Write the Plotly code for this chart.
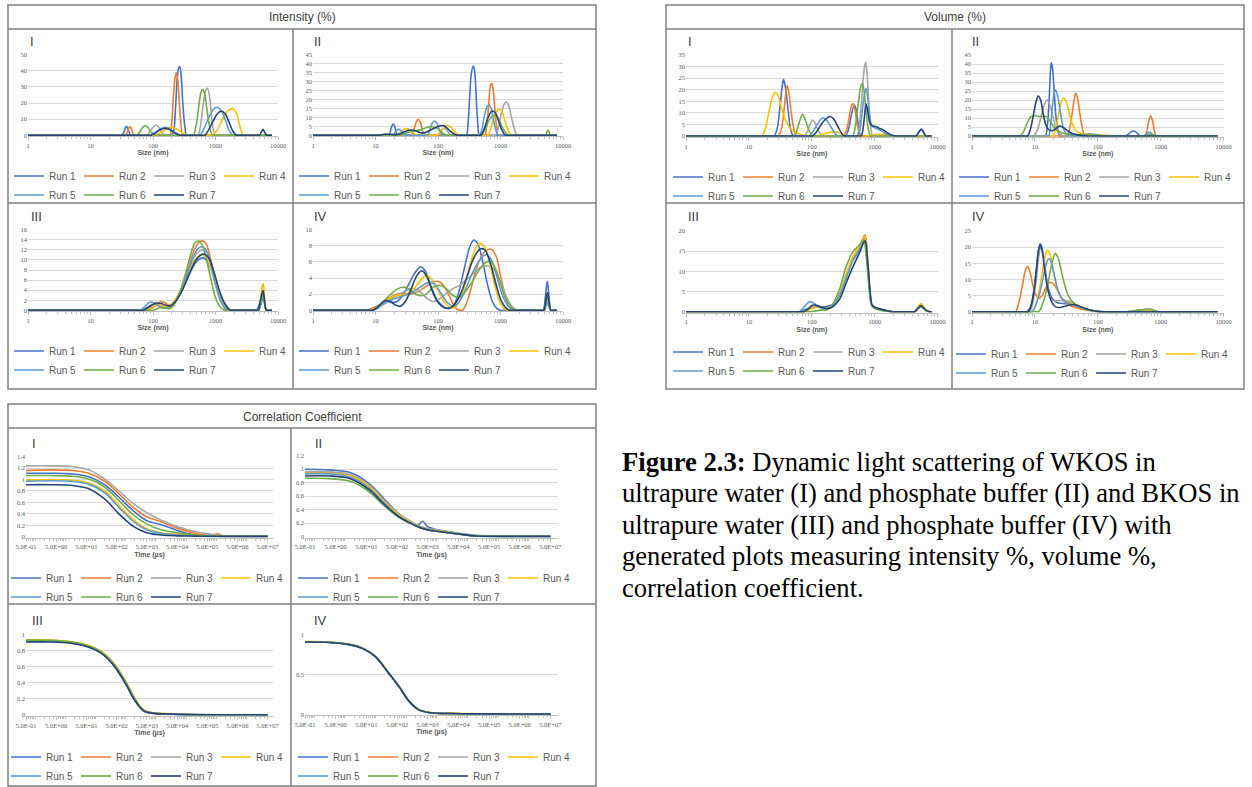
import math
import plotly.graph_objects as go

W, H = 1252, 787

RUN_NAMES = ["Run 1", "Run 2", "Run 3", "Run 4", "Run 5", "Run 6", "Run 7"]
RUN_COLORS = ["#4472C4", "#ED7D31", "#A5A5A5", "#FFC000", "#5B9BD5", "#70AD47", "#264478"]

SIZE_TICKS = [1, 10, 100, 1000, 10000]
SIZE_TICK_TEXT = ["1", "10", "100", "1000", "10000"]
TIME_TICKS = [0.5, 5, 50, 500, 5000, 50000, 500000, 5000000, 50000000]
TIME_TICK_TEXT = ["5.0E-01", "5.0E+00", "5.0E+01", "5.0E+02", "5.0E+03",
                  "5.0E+04", "5.0E+05", "5.0E+06", "5.0E+07"]

# ---------------- Intensity (%) : (size nm, %) per run ----------------
INT_I = [
    [(1,0),(27,0),(31,0),(34,1.5),(36,4.5),(37.5,5.6),(39.5,4.2),(42,1.5),(45,0),(52,0),(175,0),(200,0),(215,3),(230,18),(245,36),(258,42),(268,42.5),(282,37),(300,20),(322,6),(345,0),(390,0),(8000,0)],
    [(1,0),(32,0),(36,0),(39,2),(41,4.5),(42.5,5.2),(44.5,4.5),(47,2),(51,0),(58,0),(165,0),(185,0),(198,6),(212,24),(226,36),(236,38.8),(248,35),(262,22),(280,7),(300,0),(340,0),(8000,0)],
    [(1,0),(68,0),(78,0),(88,2),(100,5),(112,6.2),(124,5),(138,2),(154,0),(175,0),(480,0),(525,0),(575,6),(640,20),(700,28),(740,29.2),(790,26),(850,15),(920,4),(1000,0),(1100,0),(8000,0)],
    [(1,0),(90,0),(105,0),(130,1.5),(160,3.8),(195,5),(235,4),(285,2),(340,0),(390,0),(800,0),(900,0),(1050,3),(1300,10),(1600,15.5),(1900,16.5),(2150,14),(2400,7),(2650,1.5),(2800,0),(3100,0),(8000,0)],
    [(1,0),(78,0),(90,0),(110,2),(135,4.2),(155,5),(180,4.3),(215,2),(265,0),(300,0),(500,0),(560,0),(650,4),(780,11),(950,16.5),(1080,17.4),(1250,15),(1450,9),(1650,3),(1900,0),(2150,0),(8000,0)],
    [(1,0),(47,0),(54,0),(60,1.5),(67,4.5),(76,6),(84,4.5),(96,1.5),(113,0),(130,0),(390,0),(440,0),(490,6),(540,18),(590,27),(625,28.5),(670,26),(720,18),(800,6),(900,0),(1000,0),(8000,0)],
    [(1,0),(80,0),(92,0),(110,1.5),(130,3.5),(152,4.3),(180,3.8),(215,2),(270,0),(310,0),(600,0),(680,0),(780,3.5),(920,9),(1080,13.5),(1240,15),(1420,13.5),(1650,8),(1900,2.5),(2150,0),(2400,0),(4600,0),(5000,0),(5400,2),(5750,3.7),(6100,2),(6600,0),(7100,0),(8000,0)],
]
INT_II = [
    [(1,0),(14.5,0),(16.5,0),(17.5,3),(18.5,5.5),(19.2,6.3),(20,5.5),(21,3),(22.5,0),(25,0),(255,0),(285,0),(300,5),(320,20),(340,34),(365,38.7),(385,36),(405,24),(430,8),(460,0),(500,0),(8000,0)],
    [(1,0),(32,0),(37,0),(41,3),(45,7.5),(48,8.9),(52,7.5),(56,3),(61,0),(70,0),(500,0),(560,0),(600,5),(650,18),(695,28),(725,29),(760,26),(810,15),(870,4),(920,0),(1000,0),(8000,0)],
    [(1,0),(85,0),(100,0),(112,2.5),(125,4),(140,2.5),(160,0),(180,0),(760,0),(840,0),(920,4),(1030,12),(1150,17.5),(1240,18.6),(1340,17),(1480,11),(1650,4),(1850,0),(2000,0),(8000,0)],
    [(1,0),(19,0),(21.5,0),(25,1.5),(28,3.2),(31,3.7),(35,3.2),(40,1.5),(45,0),(50,0),(85,0),(95,0),(110,2),(125,4.5),(142,5.6),(160,4.5),(185,2),(215,0),(240,0),(560,0),(630,0),(700,4),(800,11),(910,14.3),(980,14.5),(1060,13),(1180,8),(1320,3),(1480,0),(1600,0),(8000,0)],
    [(1,0),(17,0),(19,0),(20.5,1.5),(22,3),(24,3.3),(26,2.5),(29,0.8),(33,0),(60,0),(68,0),(74,3),(80,6.5),(88,8),(96,6.8),(106,3),(120,0),(135,0),(400,0),(460,0),(500,3),(555,11),(610,16),(650,16.9),(700,15.5),(760,10),(840,3),(920,0),(1000,0),(8000,0)],
    [(1,0),(22,0),(25,0),(30,1.2),(36,2),(44,2.5),(55,3.3),(68,4.5),(80,4.8),(95,4),(112,2),(130,0.5),(150,0),(170,0),(450,0),(500,0),(560,3),(650,8),(740,10.8),(810,11.3),(880,10.5),(980,7.5),(1130,3),(1300,0.3),(1420,0),(1550,0),(5000,0),(5300,0),(5550,2),(5750,3),(6000,2),(6300,0),(6700,0),(8000,0)],
    [(1,0),(10,0),(11.5,0),(13.5,0.6),(17,0.6),(21,0.4),(26,1.2),(31,2.4),(37,3),(44,2.5),(52,1.5),(62,1.5),(75,2.8),(92,4.4),(110,5.3),(122,5.4),(138,4.2),(160,2),(190,0.3),(210,0),(240,0),(430,0),(480,0),(540,3),(620,9),(700,13),(760,13.6),(830,12.5),(930,8),(1050,3),(1180,0.3),(1250,0),(1400,0),(8000,0)],
]
INT_III = [
    [(1,0),(55,0),(65,0),(75,0.3),(90,0.9),(108,1.2),(128,1.0),(150,0.7),(175,0.8),(210,1.5),(260,3),(330,5.5),(430,8.5),(530,10),(630,10.4),(760,9.5),(920,7),(1100,4),(1350,1.5),(1650,0.2),(1900,0),(2200,0),(3800,0),(4200,0),(4700,0.3),(5200,1.8),(5750,3.6),(6200,1.2),(6500,0),(7000,0),(8000,0)],
    [(1,0),(70,0),(80,0),(95,0.4),(115,1.2),(135,1.7),(155,1.5),(180,1.0),(205,1.2),(240,2.5),(300,5),(380,9),(470,12.3),(560,13.6),(640,13.75),(730,12.8),(860,9.5),(1000,5.5),(1200,2),(1400,0.4),(1600,0),(1900,0),(4500,0),(4900,0),(5300,1.3),(5750,2.9),(6100,1.5),(6500,0),(7000,0),(8000,0)],
    [(1,0),(65,0),(75,0),(90,0.6),(105,1.0),(125,0.9),(150,0.6),(180,0.7),(215,1.5),(270,3.5),(350,7),(450,10.5),(560,11.8),(660,12),(770,11),(900,8.5),(1080,4.5),(1300,1.5),(1550,0.2),(1700,0),(2000,0),(4500,0),(4900,0),(5300,1.4),(5750,3.0),(6100,1.5),(6500,0),(7000,0),(8000,0)],
    [(1,0),(70,0),(80,0),(95,0.6),(112,1.1),(135,1.0),(160,0.8),(190,1.0),(230,2.2),(290,4.5),(370,7.5),(470,10),(590,11),(700,10.6),(830,8.5),(1000,5),(1200,2),(1450,0.4),(1650,0),(1900,0),(4500,0),(4900,0),(5300,2.5),(5650,5.0),(5800,5.2),(6100,2.5),(6500,0),(7000,0),(8000,0)],
    [(1,0),(55,0),(63,0),(72,0.6),(80,1.2),(90,1.6),(102,1.5),(118,1.0),(140,0.5),(165,0.4),(200,0.9),(250,2.5),(320,5.5),(410,9.5),(520,12.2),(620,12.6),(720,11.8),(860,8.5),(1030,4.5),(1250,1.5),(1500,0.2),(1650,0),(1900,0),(4500,0),(4900,0),(5300,1.2),(5750,2.6),(6100,1.3),(6500,0),(7000,0),(8000,0)],
    [(1,0),(85,0),(100,0),(115,0.3),(135,0.5),(160,0.4),(185,0.3),(210,0.8),(250,2.5),(310,6),(390,10.5),(470,13.4),(540,13.75),(620,12.8),(720,10),(850,6),(1000,2.5),(1200,0.6),(1400,0),(1600,0),(4500,0),(4900,0),(5300,1.5),(5750,3.3),(6100,1.6),(6500,0),(7000,0),(8000,0)],
    [(1,0),(60,0),(70,0),(80,0.4),(95,1.0),(113,1.45),(135,1.35),(160,1.0),(190,0.9),(230,1.8),(290,3.8),(380,7.2),(500,10.2),(640,11.2),(780,10.4),(950,7.5),(1150,4),(1400,1.4),(1650,0.2),(1800,0),(2000,0),(4300,0),(4800,0),(5200,1.8),(5750,3.9),(6150,1.5),(6500,0),(7000,0),(8000,0)],
]
INT_IV = [
    [(1,0),(8,0),(9,0),(10.5,0.3),(12.5,0.8),(15,1.1),(18,1.0),(22,1.1),(28,2.0),(36,3.6),(45,4.9),(53,5.4),(62,4.9),(75,3.3),(92,1.6),(115,0.6),(145,0.2),(175,0.5),(210,2),(260,5),(320,7.8),(370,8.7),(430,8.3),(510,6.3),(620,3.2),(750,1.0),(880,0.2),(1000,0),(1200,0),(4300,0),(4800,0),(5200,1.5),(5600,3.6),(6000,1.6),(6400,0),(7000,0),(8000,0)],
    [(1,0),(6.5,0),(7.3,0),(8.5,0.2),(10.5,0.5),(14,1.1),(19,1.8),(26,2.1),(34,2.0),(45,2.2),(60,2.8),(78,3.4),(100,3.6),(125,3.0),(155,1.6),(190,0.3),(220,0),(245,0),(280,0.7),(340,2.8),(430,5.6),(550,7.2),(700,7.6),(840,6.8),(1020,4),(1250,1.4),(1550,0.2),(1800,0),(2000,0),(4600,0),(5000,0),(5300,0.7),(5650,1.5),(6000,0.7),(6400,0),(7000,0),(8000,0)],
    [(1,0),(8,0),(9,0),(10.5,0.3),(13,0.9),(17,1.4),(23,1.9),(30,2.4),(40,2.7),(52,2.3),(66,1.5),(82,1.1),(105,1.4),(135,2.1),(175,2.7),(220,3.1),(280,3.7),(370,4.6),(480,5.3),(620,5.5),(780,5.1),(980,3.7),(1250,1.6),(1600,0.3),(1900,0),(2100,0),(4600,0),(5000,0),(5300,0.7),(5650,1.4),(6000,0.7),(6400,0),(7000,0),(8000,0)],
    [(1,0),(8,0),(9,0),(10.5,0.3),(12.5,0.8),(16,1.4),(21,1.8),(28,1.9),(37,2.3),(48,3.3),(58,4.1),(67,4.3),(80,3.8),(98,2.6),(125,1.1),(160,0.3),(195,0.5),(240,1.8),(300,4.6),(380,7.3),(460,8.3),(550,7.9),(670,5.8),(830,2.8),(1000,0.8),(1200,0.1),(1350,0),(1500,0),(4600,0),(5000,0),(5300,0.9),(5650,1.9),(6000,0.9),(6400,0),(7000,0),(8000,0)],
    [(1,0),(8,0),(9,0),(10.5,0.2),(12.5,0.6),(16,1.1),(21,1.5),(28,1.8),(38,2.2),(50,2.8),(63,3.3),(75,3.5),(90,3.2),(110,2.2),(140,1.0),(175,0.5),(215,1.0),(270,2.4),(350,4.5),(460,6.2),(580,6.9),(700,6.4),(850,4.5),(1050,2.1),(1300,0.6),(1550,0.1),(1700,0),(1900,0),(4600,0),(5000,0),(5300,0.4),(5650,0.9),(6000,0.4),(6400,0),(7000,0),(8000,0)],
    [(1,0),(8,0),(9,0),(10.5,0.4),(13,1.0),(17,1.9),(22,2.6),(28,2.9),(35,2.6),(44,2.0),(55,1.8),(67,2.1),(85,2.9),(108,3.1),(135,2.7),(170,1.9),(210,1.6),(260,2.1),(330,3.2),(430,4.7),(550,5.8),(660,6.1),(780,5.6),(940,4.0),(1150,1.9),(1450,0.4),(1750,0),(2000,0),(4600,0),(5000,0),(5300,0.8),(5650,1.6),(6000,0.8),(6400,0),(7000,0),(8000,0)],
    [(1,0),(8,0),(9,0),(10.5,0.3),(12.5,0.9),(14.5,1.2),(17,1.1),(20.5,0.7),(25,0.5),(30,1.1),(37,2.6),(46,4.3),(55,4.9),(65,4.3),(80,2.5),(100,1.0),(130,0.3),(165,0.4),(210,1.4),(280,3.8),(370,6.4),(470,7.6),(560,7.5),(680,6.0),(850,3.2),(1050,1.0),(1300,0.1),(1450,0),(1600,0),(4500,0),(4900,0),(5250,1.0),(5650,2.2),(6000,1.0),(6400,0),(7000,0),(8000,0)],
]

# ---------------- Volume (%) : (size nm, %) per run ----------------
VOL_I = [
    [(1,0),(22,0),(25,0),(28,3),(31,12),(34,22),(35.5,24.5),(38,21),(42,11),(46,3),(51,0),(58,0),(300,0),(340,0),(375,2),(410,7),(445,11.5),(475,13.4),(505,11.5),(540,6),(580,1),(610,0),(680,0),(8000,0)],
    [(1,0),(26,0),(29,0),(32,2),(35,8),(38,17),(40.5,21.8),(43,19),(47,10),(52,3),(57,0),(65,0),(280,0),(310,0),(350,2),(385,7),(420,12.5),(450,14),(480,12),(520,6),(570,1),(600,0),(680,0),(8000,0)],
    [(1,0),(68,0),(76,0),(85,2),(95,5.5),(103,6.9),(113,5.5),(128,2),(149,0),(165,0),(470,0),(520,0),(565,4),(620,16),(680,29),(715,31.8),(750,28),(800,15),(860,4),(930,0),(1000,0),(8000,0)],
    [(1,0),(14,0),(16,0),(18.5,4),(21,11),(24,17.5),(26.5,18.9),(29,17.5),(33,12),(38,7),(45,3.5),(55,1.5),(70,0.5),(90,0.1),(110,0),(130,0.3),(160,1.0),(200,1.6),(240,1.8),(280,1.2),(330,0.3),(380,0),(700,0),(900,0.4),(1200,0.7),(1500,0.6),(1900,0.1),(2200,0),(8000,0)],
    [(1,0),(80,0),(91,0),(105,2),(125,5.5),(149,7.9),(175,6.5),(210,3),(250,0.3),(270,0),(490,0),(530,0),(580,3),(640,12),(700,19),(730,20.6),(770,17),(830,9),(900,4.5),(1000,3.5),(1150,2.8),(1350,1.8),(1600,0.6),(1900,0),(2200,0),(4100,0),(4500,0),(5000,1.5),(5500,2.6),(6000,1.3),(6500,0),(7200,0),(8000,0)],
    [(1,0),(48,0),(53,0),(58,2.5),(64,6.5),(71.5,9.4),(80,6.5),(90,2.5),(103,0),(115,0),(400,0),(446,0),(490,4),(540,13),(600,21.5),(630,22.8),(670,20),(720,12),(790,3),(860,0),(950,0),(8000,0)],
    [(1,0),(90,0),(103,0),(120,2),(145,5.5),(175,7.8),(195,8.4),(220,7.5),(260,4),(300,1),(330,0),(360,0),(560,0),(610,0),(650,3),(690,9),(726,13.8),(770,11),(830,6),(900,4.5),(1000,4.2),(1150,3.5),(1350,2.7),(1600,1.3),(1900,0.3),(2200,0),(2500,0),(4100,0),(4500,0),(5000,1.7),(5500,3.0),(6000,1.5),(6500,0),(7200,0),(8000,0)],
]
VOL_II = [
    [(1,0),(13,0),(14.6,0),(15.8,6),(16.8,20),(17.6,35),(18.2,40.7),(19,38),(20.2,25),(21.7,10),(23.5,2),(25,0),(28,0),(240,0),(274,0),(310,1.2),(350,2.6),(375,2.8),(410,2),(450,0.5),(470,0),(520,0),(8000,0)],
    [(1,0),(28,0),(32,0),(35,3),(38.5,11),(42,20),(44.5,23.7),(47.5,21),(52,12),(57,4),(63,0),(70,0),(500,0),(560,0),(600,2.5),(640,8),(690,11.1),(740,8.5),(790,3),(840,0),(920,0),(8000,0)],
    [(1,0),(8.5,0),(9.5,0),(10.8,3),(12.2,9),(13.7,16),(15.5,20),(17.3,17),(19.5,10),(22,4),(25,1),(29,0),(33,0),(8000,0)],
    [(1,0),(17,0),(19,0),(21,3),(23.5,11),(26,18.5),(28.5,21.1),(31.5,19),(35,13),(39,7),(44,3.5),(50,1.8),(60,0.9),(80,0.5),(120,0.5),(160,0.3),(200,0),(240,0),(8000,0)],
    [(1,0),(15,0),(16.5,0),(17.5,4),(18.7,14),(20,23),(21.3,25.6),(23,22),(25.5,13),(28,5),(31,1.5),(35,0.5),(50,0.3),(70,1.0),(90,0.8),(110,0.2),(130,0),(480,0),(530,0),(590,1.2),(660,2),(730,1.2),(800,0),(880,0),(8000,0)],
    [(1,0),(5,0),(5.8,0),(6.5,2),(7.5,7),(8.5,10.5),(9.5,11.2),(11,11),(12.5,10.8),(14.5,11),(16,10),(18,7.5),(20.5,4.5),(24,2.5),(30,1.2),(40,0.9),(55,0.8),(75,1.0),(95,0.6),(120,0.1),(140,0),(500,0),(560,0),(620,0.6),(690,0.9),(760,0.5),(830,0),(900,0),(8000,0)],
    [(1,0),(6.8,0),(7.6,0),(8.5,4),(9.5,12),(10.5,19.5),(11.3,22.2),(12.3,20),(13.6,12),(15,6),(16.5,3.5),(19,3),(22,4.5),(25,5.5),(29,4.5),(34,2.5),(40,1.2),(50,0.5),(60,0.1),(70,0),(80,0),(8000,0)],
]
VOL_III = [
    [(1,0),(58,0),(66,0),(76,0.4),(92,1.0),(112,1.3),(135,1.2),(160,1.2),(190,1.5),(214,1.8),(274,4.2),(349,8.5),(446,12.8),(569,15.5),(680,18.2),(760,12),(830,5),(900,1.6),(1000,1.0),(1200,0.6),(1500,0.3),(1900,0),(2300,0),(3800,0),(4300,0),(4800,0.8),(5400,1.4),(6000,0.9),(6800,0.2),(7500,0),(8000,0)],
    [(1,0),(65,0),(75,0),(88,0.5),(105,1.0),(122,1.2),(145,1.0),(170,0.8),(195,1.0),(214,1.5),(274,4),(349,8.3),(446,13),(569,16),(700,19.0),(770,13),(840,5),(900,1.5),(1000,0.9),(1200,0.5),(1500,0.2),(1900,0),(2300,0),(3800,0),(4300,0),(4800,0.6),(5400,1.2),(6000,0.7),(6800,0.1),(7500,0),(8000,0)],
    [(1,0),(62,0),(72,0),(85,0.5),(100,1.1),(120,1.3),(145,1.1),(170,0.9),(195,1.2),(214,1.6),(274,4.3),(349,8.8),(446,13.2),(569,15.8),(690,18.0),(765,12),(835,5),(900,1.5),(1000,1.0),(1200,0.5),(1500,0.2),(1900,0),(2300,0),(3800,0),(4300,0),(4800,0.8),(5400,1.6),(6000,0.9),(6800,0.2),(7500,0),(8000,0)],
    [(1,0),(65,0),(75,0),(88,0.4),(105,0.9),(125,1.1),(150,0.9),(175,0.8),(200,1.2),(214,1.6),(274,4.5),(349,9.2),(446,13.6),(569,16.2),(690,18.5),(765,12.5),(835,5),(900,1.5),(1000,1.0),(1200,0.6),(1500,0.3),(1900,0),(2300,0),(3800,0),(4300,0),(4800,1.0),(5400,2.0),(6000,1.2),(6800,0.2),(7500,0),(8000,0)],
    [(1,0),(55,0),(63,0),(72,0.8),(82,1.8),(92,2.5),(105,2.2),(125,1.3),(150,0.7),(180,0.7),(214,1.4),(274,4),(349,8.2),(446,12.5),(569,15.2),(690,17.5),(765,12),(835,5),(900,1.6),(1000,1.1),(1200,0.6),(1500,0.3),(1900,0),(2300,0),(3800,0),(4300,0),(4800,0.7),(5400,1.3),(6000,0.8),(6800,0.1),(7500,0),(8000,0)],
    [(1,0),(80,0),(95,0),(115,0.2),(140,0.4),(170,0.4),(200,1.2),(214,1.8),(274,5.5),(349,11),(446,14.8),(569,16.5),(660,17.8),(740,13),(810,6),(880,1.8),(1000,0.8),(1200,0.4),(1500,0.1),(1800,0),(2300,0),(3800,0),(4300,0),(4800,0.7),(5400,1.3),(6000,0.8),(6800,0.1),(7500,0),(8000,0)],
    [(1,0),(65,0),(75,0),(88,0.7),(103,1.65),(120,1.5),(145,1.1),(170,0.8),(195,0.9),(214,1.2),(274,3),(349,7),(446,11),(569,14.5),(700,17.6),(775,12),(845,5),(910,1.6),(1000,1.1),(1200,0.7),(1500,0.3),(1900,0),(2300,0),(3800,0),(4300,0),(4800,0.8),(5400,1.5),(6000,0.9),(6800,0.2),(7500,0),(8000,0)],
]
VOL_IV = [
    [(1,0),(6.5,0),(7.5,0),(8.5,1.5),(9.5,6),(10.5,13),(11.4,19),(12.2,21),(13.2,19),(14.5,13),(16.5,7),(19,4),(23,2.8),(30,2.5),(40,2.3),(50,1.6),(65,0.8),(85,0.3),(110,0),(130,0),(300,0),(380,0.3),(500,0.6),(650,0.6),(800,0.2),(900,0),(1000,0),(8000,0)],
    [(1,0),(4.4,0),(4.9,0),(5.5,2.5),(6.3,8),(7,12.5),(7.6,14),(8.3,12.5),(9.3,8),(10.5,5),(11.7,4.2),(13,5),(15,7.5),(17.5,9.1),(20,8.5),(23,6.5),(27,4),(32,2.5),(40,1.5),(55,0.8),(80,0.3),(110,0),(130,0),(8000,0)],
    [(1,0),(7.5,0),(8.3,0),(9.3,3),(10.5,10),(11.5,17),(12.4,20),(13.4,18),(14.8,12),(16.5,6),(19,3.5),(23,3.4),(28,3.5),(34,3.3),(42,2.5),(55,1.2),(75,0.4),(100,0),(120,0),(8000,0)],
    [(1,0),(8.2,0),(9,0),(10.2,2),(11.8,7),(13.5,14),(15,18),(15.8,19),(17.2,18),(19,14),(22,8),(26,4.5),(32,3.0),(40,2.5),(52,1.6),(70,0.7),(95,0.2),(130,0),(300,0),(400,0.3),(550,0.6),(700,0.5),(850,0),(1000,0),(8000,0)],
    [(1,0),(8,0),(9,0),(10.3,2),(12,6),(14,12),(15.5,15.5),(16.5,16.5),(18,15.5),(20,12),(23,7),(27,4),(33,2.7),(42,2),(55,1.2),(75,0.5),(100,0.1),(130,0),(8000,0)],
    [(1,0),(10.5,0),(11.5,0),(13,2),(15,6),(17.5,12.5),(19.5,16.5),(21,18),(23,17),(26,13),(30,8),(35,4.5),(42,2.6),(52,1.5),(65,0.8),(85,0.3),(110,0),(300,0),(400,0.3),(550,0.7),(680,0.8),(800,0.3),(900,0),(1000,0),(8000,0)],
    [(1,0),(6.8,0),(7.7,0),(8.6,1.5),(9.6,6),(10.6,13),(11.4,19),(12.1,20.7),(13,19),(14.3,13),(16,7),(18.5,3),(21.5,1.5),(25,1.3),(30,1.7),(36,2.1),(42,2.2),(50,1.8),(62,1.0),(80,0.4),(100,0.1),(120,0),(8000,0)],
]

# ---------------- Correlation coefficient : time (us) grid + values per run ----------------
CORR_I_T = [0.5, 3, 15, 60, 200, 600, 1800, 5000, 15000, 50000, 200000, 700000, 1100000, 1600000, 5000000, 50000000]
CORR_I = [
    [1.11, 1.11, 1.10, 1.05, 0.91, 0.69, 0.45, 0.28, 0.21, 0.11, 0.03, 0.01, 0.01, 0.005, 0.005, 0.005],
    [1.16, 1.17, 1.16, 1.11, 0.97, 0.75, 0.51, 0.35, 0.26, 0.15, 0.06, 0.02, 0.05, 0.015, 0.005, 0.005],
    [1.24, 1.24, 1.23, 1.17, 1.01, 0.80, 0.58, 0.42, 0.29, 0.18, 0.09, 0.04, 0.03, 0.02, 0.01, 0.005],
    [0.99, 1.00, 0.99, 0.94, 0.80, 0.55, 0.30, 0.14, 0.07, 0.04, 0.02, 0.01, 0.01, 0.005, 0.005, 0.005],
    [0.97, 0.98, 0.97, 0.92, 0.77, 0.51, 0.27, 0.12, 0.06, 0.03, 0.015, 0.01, 0.005, 0.005, 0.005, 0.005],
    [1.07, 1.07, 1.06, 1.01, 0.87, 0.63, 0.38, 0.22, 0.12, 0.07, 0.03, 0.01, 0.01, 0.005, 0.005, 0.005],
    [0.91, 0.91, 0.90, 0.84, 0.66, 0.40, 0.18, 0.07, 0.03, 0.015, 0.01, 0.005, 0.005, 0.005, 0.005, 0.005],
]
CORR_II_T = [0.5, 3, 15, 60, 200, 600, 1500, 2300, 3400, 5000, 15000, 50000, 200000, 1000000, 50000000]
CORR_II = [
    [1.00, 0.99, 0.95, 0.79, 0.55, 0.33, 0.20, 0.16, 0.23, 0.15, 0.09, 0.05, 0.015, 0.005, 0.005],
    [0.95, 0.95, 0.90, 0.74, 0.50, 0.31, 0.21, 0.17, 0.14, 0.12, 0.08, 0.04, 0.015, 0.005, 0.005],
    [0.96, 0.96, 0.92, 0.77, 0.53, 0.33, 0.22, 0.17, 0.14, 0.12, 0.09, 0.05, 0.02, 0.005, 0.005],
    [0.94, 0.94, 0.90, 0.75, 0.51, 0.32, 0.21, 0.16, 0.13, 0.11, 0.08, 0.04, 0.01, 0.01, 0.005],
    [0.93, 0.93, 0.88, 0.72, 0.49, 0.30, 0.20, 0.16, 0.13, 0.11, 0.07, 0.04, 0.01, 0.005, 0.005],
    [0.865, 0.86, 0.82, 0.67, 0.45, 0.28, 0.19, 0.15, 0.12, 0.10, 0.07, 0.04, 0.01, 0.005, 0.005],
    [0.90, 0.90, 0.86, 0.70, 0.47, 0.29, 0.19, 0.15, 0.12, 0.10, 0.07, 0.04, 0.01, 0.005, 0.005],
]
CORR_III_T = [0.5, 3, 15, 50, 150, 400, 1000, 2000, 4000, 9000, 30000, 100000, 1000000, 50000000]
CORR_III = [
    [0.91, 0.915, 0.90, 0.86, 0.78, 0.62, 0.39, 0.185, 0.05, 0.02, 0.012, 0.006, 0.003, 0.002],
    [0.925, 0.925, 0.905, 0.865, 0.785, 0.635, 0.41, 0.20, 0.06, 0.025, 0.015, 0.007, 0.003, 0.002],
    [0.92, 0.92, 0.90, 0.86, 0.78, 0.63, 0.40, 0.19, 0.055, 0.02, 0.012, 0.006, 0.003, 0.002],
    [0.93, 0.93, 0.91, 0.87, 0.79, 0.64, 0.42, 0.21, 0.06, 0.025, 0.014, 0.007, 0.003, 0.002],
    [0.915, 0.915, 0.90, 0.855, 0.775, 0.62, 0.39, 0.185, 0.05, 0.02, 0.012, 0.006, 0.003, 0.002],
    [0.93, 0.925, 0.905, 0.865, 0.785, 0.635, 0.41, 0.20, 0.058, 0.022, 0.013, 0.006, 0.003, 0.002],
    [0.905, 0.905, 0.89, 0.85, 0.77, 0.615, 0.385, 0.18, 0.05, 0.02, 0.011, 0.005, 0.003, 0.002],
]
CORR_IV_T = [0.5, 3, 15, 40, 100, 250, 600, 1200, 2500, 6000, 30000, 1000000, 50000000]
CORR_IV = [
    [0.905, 0.90, 0.87, 0.82, 0.72, 0.53, 0.34, 0.17, 0.06, 0.02, 0.01, 0.005, 0.003],
    [0.905, 0.90, 0.872, 0.822, 0.722, 0.532, 0.342, 0.172, 0.062, 0.021, 0.01, 0.005, 0.003],
    [0.907, 0.902, 0.871, 0.821, 0.721, 0.531, 0.341, 0.171, 0.061, 0.02, 0.01, 0.005, 0.003],
    [0.908, 0.903, 0.873, 0.823, 0.723, 0.533, 0.343, 0.173, 0.062, 0.021, 0.011, 0.005, 0.003],
    [0.904, 0.899, 0.869, 0.819, 0.719, 0.529, 0.339, 0.169, 0.059, 0.02, 0.01, 0.005, 0.003],
    [0.906, 0.901, 0.871, 0.821, 0.721, 0.531, 0.341, 0.171, 0.061, 0.02, 0.01, 0.005, 0.003],
    [0.903, 0.898, 0.868, 0.818, 0.718, 0.528, 0.338, 0.168, 0.058, 0.019, 0.01, 0.005, 0.003],
]

# ---------------- layout geometry (pixels) ----------------
PANELS = [
    dict(data=INT_I,   kind="size", x0=28,  x1=278,    yt=54.7,  yb=135.3, ymax=50,  dt=10,  lab="I",   lx=28,  ly=41,  legx=43,  legy=176),
    dict(data=INT_II,  kind="size", x0=313, x1=563,    yt=54.7,  yb=135.3, ymax=45,  dt=5,   lab="II",  lx=312, ly=41,  legx=328, legy=176),
    dict(data=INT_III, kind="size", x0=28,  x1=278,    yt=229.7, yb=310.3, ymax=16,  dt=2,   lab="III", lx=29,  ly=216, legx=43,  legy=351),
    dict(data=INT_IV,  kind="size", x0=313, x1=563,    yt=229.7, yb=310.3, ymax=10,  dt=2,   lab="IV",  lx=312, ly=216, legx=328, legy=351),
    dict(data=VOL_I,   kind="size", x0=686, x1=937.7,  yt=55,    yb=136,   ymax=35,  dt=5,   lab="I",   lx=686, ly=41,  legx=702, legy=177),
    dict(data=VOL_II,  kind="size", x0=972, x1=1223.7, yt=55,    yb=136,   ymax=45,  dt=5,   lab="II",  lx=970, ly=41,  legx=988, legy=177),
    dict(data=VOL_III, kind="size", x0=686, x1=937.7,  yt=231,   yb=311.7, ymax=20,  dt=5,   lab="III", lx=686, ly=217, legx=702, legy=352),
    dict(data=VOL_IV,  kind="size", x0=972, x1=1223.7, yt=231,   yb=311.7, ymax=25,  dt=5,   lab="IV",  lx=970, ly=217, legx=985, legy=354),
    dict(data=CORR_I,   t=CORR_I_T,   kind="time", x0=26,  x1=273, ppd=30.2,  yt=456.7, yb=536.7, ymax=1.4, dt=0.2, lab="I",   lx=30,  ly=443, legx=40,  legy=578),
    dict(data=CORR_II,  t=CORR_II_T,  kind="time", x0=305, x1=558, ppd=30.67, yt=455.7, yb=536.7, ymax=1.2, dt=0.2, lab="II",  lx=313, ly=443, legx=327, legy=578),
    dict(data=CORR_III, t=CORR_III_T, kind="time", x0=26,  x1=273, ppd=30.2,  yt=634.3, yb=715,   ymax=1.0, dt=0.2, lab="III", lx=30,  ly=620, legx=40,  legy=757),
    dict(data=CORR_IV,  t=CORR_IV_T,  kind="time", x0=305, x1=558, ppd=30.67, yt=634.3, yb=714.3, ymax=1.0, dt=0.5, lab="IV",  lx=312, ly=620, legx=327, legy=757),
]

GRID = "#d9d9d9"
TXT = "#595959"
FRAME = "#808080"
TICK_FONT = dict(family="Liberation Serif", size=6.5, color=TXT)
LEG_FONT = dict(family="Liberation Sans", size=10, color=TXT)


def px(x):
    return x / W


def py(y):
    return 1 - y / H


fig = go.Figure()
layout = dict(
    width=W, height=H,
    margin=dict(l=0, r=0, t=0, b=0, autoexpand=False),
    paper_bgcolor="white", plot_bgcolor="white",
    showlegend=True, hovermode=False,
)

size_minor = [m * 10 ** e for e in range(0, 4) for m in range(2, 10)]
time_minor = [m * 10 ** e for e in range(-1, 8) for m in range(1, 10) if 0.5 <= m * 10 ** e <= 5e7]

annotations = []
for k, p in enumerate(PANELS):
    n = k + 1
    xa, ya = f"xaxis{n}", f"yaxis{n}"
    xr, yr = f"x{n}", f"y{n}"
    legname = "legend" if n == 1 else f"legend{n}"

    pad = 0.8  # px below zero so baseline strokes are not clipped
    ymin = -pad * p["ymax"] / (p["yb"] - p["yt"])

    if p["kind"] == "size":
        xrange = [0, 4]
        tv, tt, minor = SIZE_TICKS, SIZE_TICK_TEXT, size_minor
        xtitle = "Size (nm)"
    else:
        lo = math.log10(0.5)
        xrange = [lo, lo + (p["x1"] - p["x0"]) / p["ppd"]]
        tv, tt, minor = TIME_TICKS, TIME_TICK_TEXT, time_minor
        xtitle = "Time (µs)"

    layout[xa] = dict(
        domain=[px(p["x0"]), px(p["x1"])], anchor=yr, type="log", range=xrange,
        tickvals=tv, ticktext=tt, showgrid=False, zeroline=False,
        showline=True, linecolor="#bfbfbf", linewidth=1,
        ticks="outside", ticklen=3, tickcolor="#bfbfbf", tickwidth=1,
        minor=dict(tickvals=minor, ticks="outside", ticklen=2, tickcolor="#bfbfbf", showgrid=False),
        tickfont=TICK_FONT,
        title=dict(text=xtitle, font=dict(family="Liberation Sans", size=7, color=TXT, weight="bold"), standoff=2),
        fixedrange=True,
    )
    layout[ya] = dict(
        domain=[py(p["yb"] + pad), py(p["yt"])], anchor=xr, range=[ymin, p["ymax"]],
        dtick=p["dt"], tick0=0, showgrid=True, gridcolor=GRID, gridwidth=1,
        zeroline=False, showline=False, ticks="", tickfont=TICK_FONT, fixedrange=True,
    )
    layout[legname] = dict(
        orientation="h", traceorder="grouped",
        x=px(p["legx"] - 34), xanchor="left",
        y=py(p["legy"] - 14.5), yanchor="top",
        font=LEG_FONT, bgcolor="rgba(0,0,0,0)", borderwidth=0,
        entrywidth=25, entrywidthmode="pixels",
        itemclick=False, itemdoubleclick=False,
    )

    for j, run in enumerate(p["data"]):
        if p["kind"] == "size":
            xs = [pt[0] for pt in run]
            ys = [pt[1] for pt in run]
        else:
            xs = p["t"]
            ys = run
        fig.add_trace(go.Scatter(
            x=xs, y=ys, mode="lines", name=RUN_NAMES[j],
            line=dict(color=RUN_COLORS[j], width=1.6, shape="spline", smoothing=1.0),
            xaxis=xr, yaxis=yr, legend=legname,
            legendgroup=f"p{n}c{j % 4}", showlegend=True,
        ))

    annotations.append(dict(
        text=p["lab"], x=px(p["lx"]), y=py(p["ly"]), xref="paper", yref="paper",
        xanchor="left", yanchor="middle", showarrow=False,
        font=dict(family="Liberation Sans", size=13, color="#404040"),
    ))

# block titles
for txt, cx, cy in [("Intensity (%)", 302, 17), ("Volume (%)", 955, 17), ("Correlation Coefficient", 302, 417)]:
    annotations.append(dict(
        text=txt, x=px(cx), y=py(cy), xref="paper", yref="paper",
        xanchor="center", yanchor="middle", showarrow=False,
        font=dict(family="Liberation Sans", size=12, color="#404040"),
    ))

# caption
CAPTION_LINES = [
    "<b>Figure 2.3:</b> Dynamic light scattering of WKOS in",
    "ultrapure water (I) and phosphate buffer (II) and BKOS in",
    "ultrapure water (III) and phosphate buffer (IV) with",
    "generated plots measuring intensity %, volume %,",
    "correlation coefficient.",
]
for i, line in enumerate(CAPTION_LINES):
    annotations.append(dict(
        text=line, x=px(620), y=py(462 + i * 31.4), xref="paper", yref="paper",
        xanchor="left", yanchor="middle", showarrow=False,
        font=dict(family="Liberation Serif", size=26.6, color="black"),
    ))

layout["annotations"] = annotations

# block frames
shapes = []
def seg(x0, y0, x1, y1):
    shapes.append(dict(type="line", xref="paper", yref="paper",
                       x0=px(x0), y0=py(y0), x1=px(x1), y1=py(y1),
                       line=dict(color=FRAME, width=1.5)))

def rect(x0, y0, x1, y1):
    shapes.append(dict(type="rect", xref="paper", yref="paper",
                       x0=px(x0), y0=py(y0), x1=px(x1), y1=py(y1),
                       line=dict(color=FRAME, width=1.5), fillcolor="rgba(0,0,0,0)"))

rect(8, 5, 596, 389); seg(8, 29, 596, 29); seg(293, 29, 293, 389); seg(8, 203, 596, 203)
rect(666, 5, 1244, 389); seg(666, 29, 1244, 29); seg(952, 29, 952, 389); seg(666, 203, 1244, 203)
rect(8, 404, 596, 786); seg(8, 428, 596, 428); seg(291, 428, 291, 786); seg(8, 604, 596, 604)
layout["shapes"] = shapes

fig.update_layout(**layout)
fig.write_html("out.html")
